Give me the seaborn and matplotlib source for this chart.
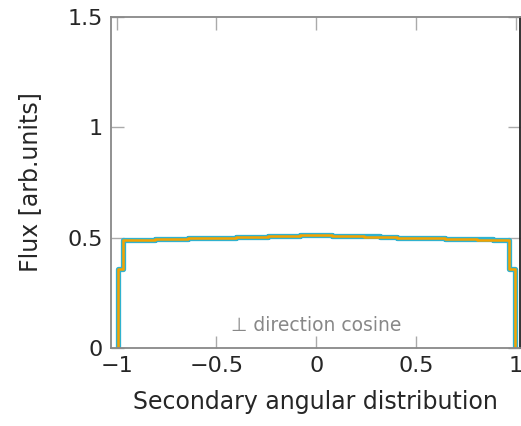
import numpy as np
import pandas as pd
import matplotlib
matplotlib.use("Agg")
import matplotlib.pyplot as plt
import seaborn as sns

# Histogram bin edges (direction cosine) and fluxes for the two curves
bin_edges = [-0.993, -0.967, -0.886, -0.806, -0.725, -0.645, -0.564, -0.484,
             -0.403, -0.322, -0.242, -0.161, -0.081, 0.0, 0.081, 0.161,
             0.242, 0.322, 0.403, 0.484, 0.564, 0.645, 0.725, 0.806,
             0.886, 0.966, 0.998]
flux_blue = [0.358, 0.489, 0.491, 0.493, 0.494, 0.497, 0.498, 0.500,
             0.502, 0.504, 0.507, 0.509, 0.513, 0.513, 0.509, 0.507,
             0.505, 0.502, 0.500, 0.499, 0.497, 0.495, 0.493, 0.492,
             0.491, 0.358]
flux_orange = [0.357, 0.488, 0.490, 0.492, 0.494, 0.496, 0.498, 0.499,
               0.501, 0.503, 0.506, 0.508, 0.512, 0.512, 0.509, 0.506,
               0.504, 0.502, 0.500, 0.498, 0.496, 0.494, 0.492, 0.491,
               0.490, 0.357]

x_ticks = [-1, -0.5, 0, 0.5, 1]
y_ticks = [0, 0.5, 1, 1.5]


def step_frame(edges, values):
    # outline of a histogram: rise from zero at the first edge, fall to zero at the last
    xs = [edges[0]] + list(edges)
    ys = [0.0] + list(values) + [0.0]
    return pd.DataFrame({"cosine": xs, "flux": ys})


sns.set_style("ticks")
plt.rcParams['font.family'] = ['DejaVu Sans']

fig = plt.figure(figsize=(5.21, 4.26), dpi=100)
ax = fig.add_axes([0.213, 0.183, 0.785, 0.778])

sns.lineplot(data=step_frame(bin_edges, flux_blue), x="cosine", y="flux",
             estimator=None, sort=False, drawstyle="steps-post",
             color="#30b2cf", linewidth=3.8, ax=ax)
sns.lineplot(data=step_frame(bin_edges, flux_orange), x="cosine", y="flux",
             estimator=None, sort=False, drawstyle="steps-post",
             color="#f5a300", linewidth=1.8, ax=ax)

ax.set_xlim(-1.029, 1.022)
ax.set_ylim(0, 1.5)
ax.set_xticks(x_ticks)
ax.set_xticklabels(["\u22121", "\u22120.5", "0", "0.5", "1"])
ax.set_yticks(y_ticks)
ax.set_yticklabels(["0", "0.5", "1", "1.5"])
ax.tick_params(direction="in", length=9, width=1, color="#aaaaaa",
               labelsize=16, top=True, right=True, pad=6)

for side in ["top", "left", "bottom"]:
    ax.spines[side].set_color("#888888")
    ax.spines[side].set_linewidth(1.3)
ax.spines["right"].set_color("#222222")
ax.spines["right"].set_linewidth(1.3)

ax.set_xlabel("Secondary angular distribution", fontsize=17, labelpad=10)
ax.set_ylabel("Flux [arb.units]", fontsize=17, labelpad=18)
ax.text(0, 0.1, "\u22a5 direction cosine", ha="center", va="center",
        fontsize=13.5, color="#888888")

fig.savefig("out.png", dpi=100)
